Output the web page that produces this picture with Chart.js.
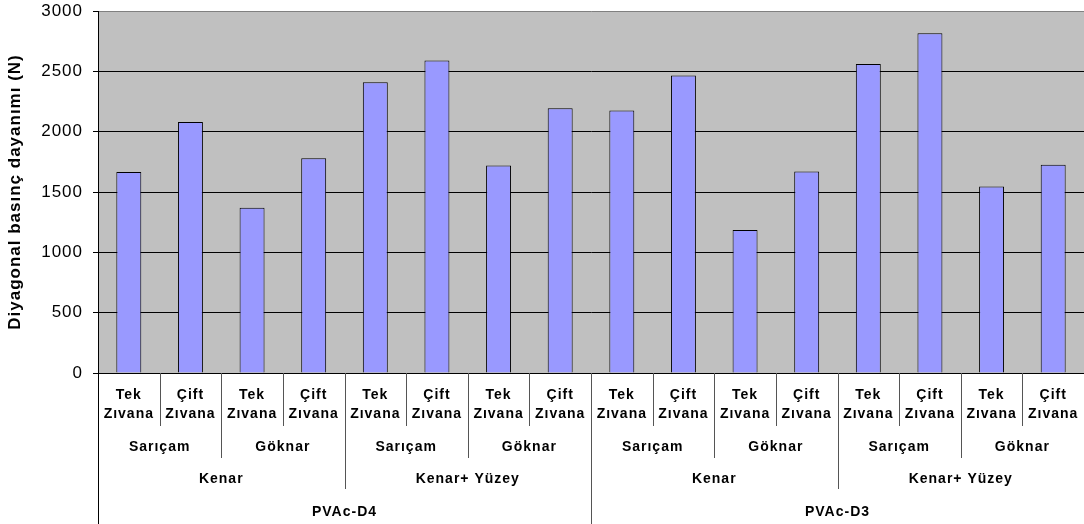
<!DOCTYPE html>
<html>
<head>
<meta charset="utf-8">
<style>
  html, body { margin: 0; padding: 0; background: #ffffff; }
  #wrap { width: 1084px; height: 524px; }
</style>
<script src="https://cdn.jsdelivr.net/npm/chart.js@4/dist/chart.umd.min.js"></script>
</head>
<body>
<div id="wrap"><canvas id="c" width="1084" height="524"></canvas></div>
<script>
// ---- data ----
const adhesives = ["PVAc-D4", "PVAc-D3"];
const methods = ["Kenar", "Kenar+ Yüzey"];
const woods = ["Sarıçam", "Göknar"];
const joints = [["Tek", "Zıvana"], ["Çift", "Zıvana"]];
const values = [1665, 2080, 1370, 1780, 2410, 2590, 1720, 2195,
                2175, 2465, 1185, 1670, 2560, 2815, 1545, 1725];
const yTicks = [0, 500, 1000, 1500, 2000, 2500, 3000];
const yTitle = "Diyagonal basınç dayanımı (N)";

// build flat category list from the hierarchy
const categories = [];
for (const a of adhesives) for (const m of methods) for (const w of woods) for (const j of joints) {
  categories.push({ joint: j, wood: w, method: m, adhesive: a });
}
const labels = categories.map(c => c.joint.join(" "));

const FONT = "'Liberation Sans', Arial, sans-serif";

const bgPlugin = {
  id: 'plotBg',
  beforeDraw(chart) {
    const { ctx, chartArea: a } = chart;
    ctx.save();
    ctx.fillStyle = '#ffffff';
    ctx.fillRect(0, 0, chart.width, chart.height);
    ctx.fillStyle = '#C0C0C0';
    ctx.fillRect(a.left, a.top, a.right - a.left, a.bottom - a.top);
    ctx.restore();
    if ('letterSpacing' in ctx) ctx.letterSpacing = '1px';
  }
};

const hierarchyPlugin = {
  id: 'hierarchy',
  afterDraw(chart) {
    const { ctx } = chart;
    const xs = chart.scales.x;
    const n = categories.length;
    const w = (xs.getPixelForValue(1) - xs.getPixelForValue(0));
    const left = xs.getPixelForValue(0) - w / 2;
    const base = chart.chartArea.bottom;
    const rows = [
      { key: 'joint',    y: null,  lineEnd: 426 },
      { key: 'wood',     y: 447,   lineEnd: 458 },
      { key: 'method',   y: 479,   lineEnd: 489 },
      { key: 'adhesive', y: 512,   lineEnd: 524 }
    ];
    ctx.save();
    ctx.fillStyle = '#000';
    ctx.textAlign = 'center';
    ctx.textBaseline = 'middle';
    ctx.font = "bold 14px " + FONT;
    // level 1 labels (two lines)
    for (let i = 0; i < n; i++) {
      const cx = xs.getPixelForValue(i);
      ctx.fillText(categories[i].joint[0], cx, 395);
      ctx.fillText(categories[i].joint[1], cx, 414);
    }
    // group labels for higher levels
    const keyOf = (c, lvl) => {
      const ks = ['joint', 'wood', 'method', 'adhesive'];
      return ks.slice(lvl).map(k => Array.isArray(c[k]) ? c[k].join(' ') : c[k]).join('|');
    };
    for (let lvl = 1; lvl < 4; lvl++) {
      let start = 0;
      for (let i = 1; i <= n; i++) {
        if (i === n || keyOf(categories[i], lvl) !== keyOf(categories[start], lvl)) {
          const cx = left + w * (start + i) / 2;
          ctx.fillText(categories[start][rows[lvl].key], cx, rows[lvl].y);
          start = i;
        }
      }
    }
    // separator lines
    ctx.lineWidth = 1;
    for (let i = 0; i < n; i++) {
      let lvl = 0;
      if (i === 0) lvl = 3;
      else {
        for (let l = 3; l >= 1; l--) {
          if (keyOf(categories[i], l) !== keyOf(categories[i - 1], l)) { lvl = l; break; }
        }
      }
      const x = Math.round(left + w * i) + 0.5;
      ctx.strokeStyle = i === 0 ? '#000' : '#555';
      ctx.beginPath();
      ctx.moveTo(x, base);
      ctx.lineTo(x, rows[lvl].lineEnd);
      ctx.stroke();
    }
    ctx.restore();
  }
};

new Chart(document.getElementById('c'), {
  type: 'bar',
  data: {
    labels: labels,
    datasets: [{
      data: values,
      backgroundColor: '#9999FF',
      borderColor: '#000000',
      borderWidth: 1,
      borderSkipped: 'bottom',
      barPercentage: 0.405,
      categoryPercentage: 1.0
    }]
  },
  options: {
    responsive: false,
    devicePixelRatio: 1,
    animation: false,
    layout: { padding: { top: 11, right: 0, left: 0, bottom: 0 } },
    plugins: { legend: { display: false }, tooltip: { enabled: false } },
    scales: {
      x: {
        type: 'category',
        offset: true,
        grid: { display: false },
        border: { display: false },
        ticks: { display: false },
        afterFit(s) { s.height = 151; s.paddingLeft = 0; s.paddingRight = 0; }
      },
      y: {
        min: 0, max: 3000,
        afterBuildTicks(s) { s.ticks = yTicks.map(v => ({ value: v })); },
        ticks: {
          color: '#000',
          font: { family: FONT, size: 17 },
          padding: 10,
          callback: v => String(v)
        },
        grid: {
          color: ctx => (ctx.tick && ctx.tick.value === 3000) ? '#808080' : '#000000',
          tickColor: '#000000',
          tickLength: 5,
          lineWidth: 1
        },
        border: { display: true, color: '#000000', width: 1 },
        title: {
          display: true,
          text: yTitle,
          color: '#000',
          font: { family: FONT, size: 17, weight: 'bold' },
          padding: { top: 5, bottom: 0 }
        },
        afterFit(s) { s.width = 98; s.paddingTop = 0; s.paddingBottom = 0; }
      }
    }
  },
  plugins: [bgPlugin, hierarchyPlugin]
});
</script>
</body>
</html>
